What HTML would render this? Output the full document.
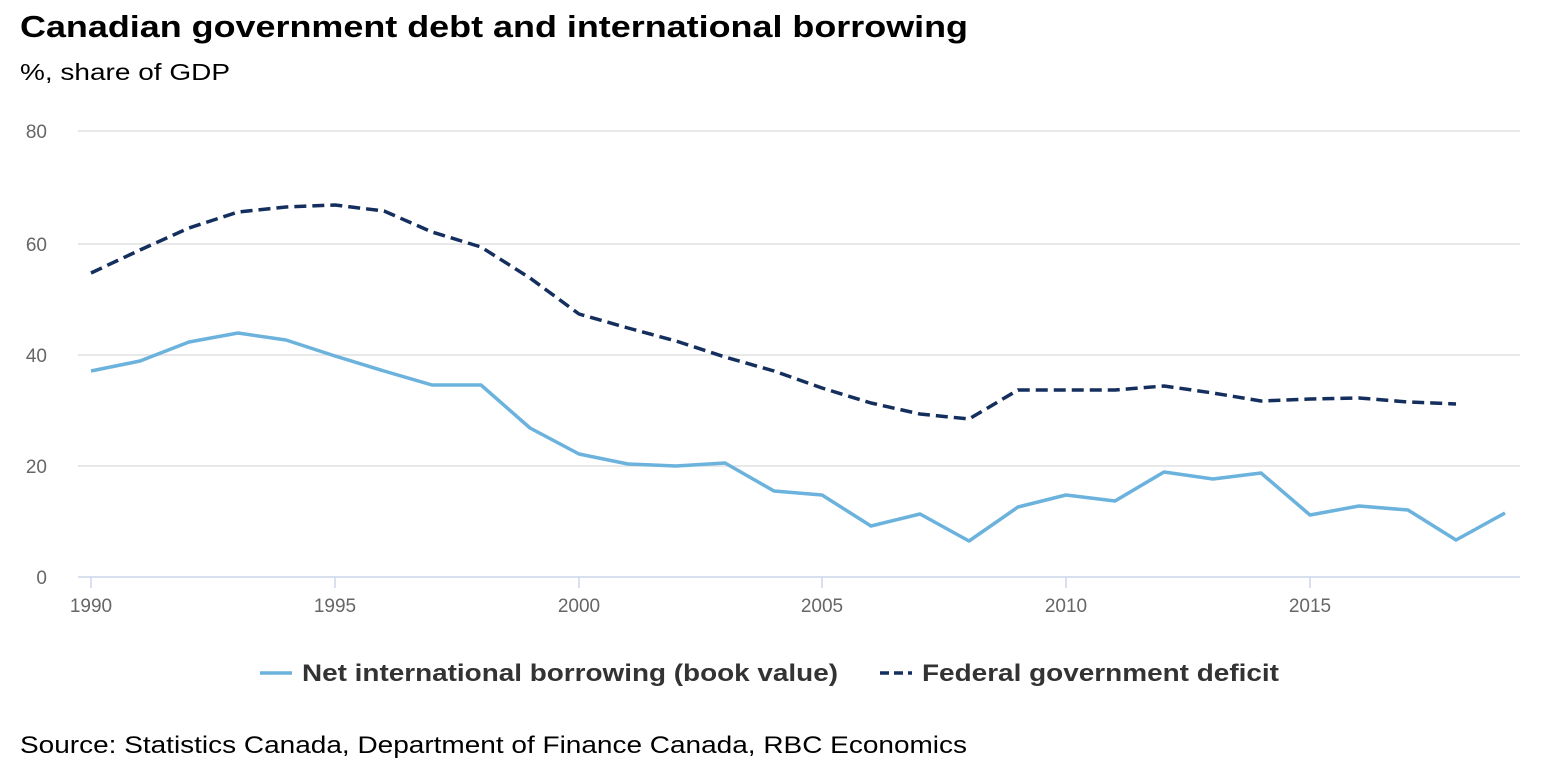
<!DOCTYPE html>
<html><head><meta charset="utf-8"><style>
body{margin:0;background:#fff;width:1546px;height:778px;overflow:hidden;font-family:"Liberation Sans",sans-serif}
</style></head><body>
<svg width="1546" height="778" xmlns="http://www.w3.org/2000/svg" font-family="Liberation Sans, sans-serif">
<text x="20" y="37" font-size="31" font-weight="bold" fill="#000" textLength="948" lengthAdjust="spacingAndGlyphs">Canadian government debt and international borrowing</text>
<text x="20" y="80" font-size="23" fill="#000" textLength="210" lengthAdjust="spacingAndGlyphs">%, share of GDP</text>
<g stroke="#e0e0e0" stroke-width="1.5">
<line x1="78" x2="1520" y1="131" y2="131"/><line x1="78" x2="1520" y1="244" y2="244"/>
<line x1="78" x2="1520" y1="355" y2="355"/><line x1="78" x2="1520" y1="466" y2="466"/>
</g>
<line x1="78" x2="1520" y1="577" y2="577" stroke="#ccd6eb" stroke-width="1.5"/>
<g stroke="#ccd6eb" stroke-width="1.5">
<line x1="91" x2="91" y1="577" y2="588"/><line x1="335" x2="335" y1="577" y2="588"/><line x1="579" x2="579" y1="577" y2="588"/><line x1="822" x2="822" y1="577" y2="588"/><line x1="1066" x2="1066" y1="577" y2="588"/><line x1="1310" x2="1310" y1="577" y2="588"/>
</g>
<g font-size="19" fill="#666" text-anchor="end">
<text x="47" y="138">80</text><text x="47" y="251">60</text><text x="47" y="362">40</text><text x="47" y="473">20</text><text x="47" y="584">0</text>
</g>
<g font-size="19" fill="#666" text-anchor="middle">
<text x="91" y="612">1990</text><text x="335" y="612">1995</text><text x="579" y="612">2000</text><text x="822" y="612">2005</text><text x="1066" y="612">2010</text><text x="1310" y="612">2015</text>
</g>
<polyline fill="none" stroke="#6bb2dd" stroke-width="3.5" stroke-linejoin="round" points="91,371 140,361 189,342 238,333 286,340 335,356 384,371 432,385 481,385 530,428 579,454 628,464 676,466 725,463 774,491 822,495 871,526 920,514 969,541 1018,507 1066,495 1115,501 1164,472 1213,479 1261,473 1310,515 1359,506 1408,510 1456,540 1505,513"/>
<polyline fill="none" stroke="#142f5e" stroke-width="3.5" stroke-dasharray="12,6" stroke-linejoin="round" points="91,273 140,250 189,228 238,212 286,207 335,205 384,211 432,232 481,247 530,278 579,314 628,328 676,341 725,357 774,371 822,388 871,403 920,414 969,419 1018,390 1066,390 1115,390 1164,386 1213,393 1261,401 1310,399 1359,398 1408,402 1456,404"/>
<line x1="260" x2="292" y1="673" y2="673" stroke="#6bb2dd" stroke-width="3.5"/>
<text x="302" y="681" font-size="24" font-weight="bold" fill="#333" textLength="536" lengthAdjust="spacingAndGlyphs">Net international borrowing (book value)</text>
<line x1="880" x2="912" y1="673" y2="673" stroke="#142f5e" stroke-width="3.5" stroke-dasharray="9,5"/>
<text x="922" y="681" font-size="24" font-weight="bold" fill="#333" textLength="357" lengthAdjust="spacingAndGlyphs">Federal government deficit</text>
<text x="20" y="753" font-size="24" fill="#000" textLength="947" lengthAdjust="spacingAndGlyphs">Source: Statistics Canada, Department of Finance Canada, RBC Economics</text>
</svg>
</body></html>
